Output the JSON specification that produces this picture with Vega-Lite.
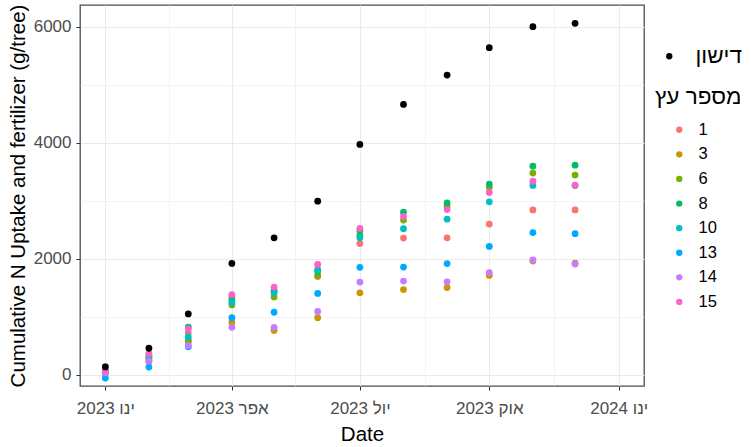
{
  "$schema": "https://vega.github.io/schema/vega-lite/v6.json",
  "width": 564,
  "height": 381,
  "autosize": "none",
  "padding": {"left": 80, "top": 5, "right": 107, "bottom": 61},
  "background": "white",
  "datasets": {
    "fert": [
      {"date": "2023-01-01", "kind": "דישון", "value": 131},
      {"date": "2023-02-01", "kind": "דישון", "value": 454},
      {"date": "2023-03-01", "kind": "דישון", "value": 1046},
      {"date": "2023-04-01", "kind": "דישון", "value": 1916},
      {"date": "2023-05-01", "kind": "דישון", "value": 2358},
      {"date": "2023-06-01", "kind": "דישון", "value": 2990},
      {"date": "2023-07-01", "kind": "דישון", "value": 3970},
      {"date": "2023-08-01", "kind": "דישון", "value": 4660},
      {"date": "2023-09-01", "kind": "דישון", "value": 5166},
      {"date": "2023-10-01", "kind": "דישון", "value": 5637},
      {"date": "2023-11-01", "kind": "דישון", "value": 6000},
      {"date": "2023-12-01", "kind": "דישון", "value": 6058}
    ],
    "trees": [
      {"date": "2023-01-01", "tree": "1", "value": 135},
      {"date": "2023-02-01", "tree": "1", "value": 340},
      {"date": "2023-03-01", "tree": "1", "value": 720},
      {"date": "2023-04-01", "tree": "1", "value": 1340},
      {"date": "2023-05-01", "tree": "1", "value": 1450},
      {"date": "2023-06-01", "tree": "1", "value": 1690},
      {"date": "2023-07-01", "tree": "1", "value": 2260},
      {"date": "2023-08-01", "tree": "1", "value": 2355},
      {"date": "2023-09-01", "tree": "1", "value": 2358},
      {"date": "2023-10-01", "tree": "1", "value": 2595},
      {"date": "2023-11-01", "tree": "1", "value": 2840},
      {"date": "2023-12-01", "tree": "1", "value": 2840},

      {"date": "2023-01-01", "tree": "3", "value": 60},
      {"date": "2023-02-01", "tree": "3", "value": 220},
      {"date": "2023-03-01", "tree": "3", "value": 560},
      {"date": "2023-04-01", "tree": "3", "value": 900},
      {"date": "2023-05-01", "tree": "3", "value": 760},
      {"date": "2023-06-01", "tree": "3", "value": 980},
      {"date": "2023-07-01", "tree": "3", "value": 1410},
      {"date": "2023-08-01", "tree": "3", "value": 1467},
      {"date": "2023-09-01", "tree": "3", "value": 1500},
      {"date": "2023-10-01", "tree": "3", "value": 1710},
      {"date": "2023-11-01", "tree": "3", "value": 1958},
      {"date": "2023-12-01", "tree": "3", "value": 1920},

      {"date": "2023-01-01", "tree": "6", "value": 50},
      {"date": "2023-02-01", "tree": "6", "value": 260},
      {"date": "2023-03-01", "tree": "6", "value": 590},
      {"date": "2023-04-01", "tree": "6", "value": 1200},
      {"date": "2023-05-01", "tree": "6", "value": 1340},
      {"date": "2023-06-01", "tree": "6", "value": 1710},
      {"date": "2023-07-01", "tree": "6", "value": 2400},
      {"date": "2023-08-01", "tree": "6", "value": 2665},
      {"date": "2023-09-01", "tree": "6", "value": 2900},
      {"date": "2023-10-01", "tree": "6", "value": 3230},
      {"date": "2023-11-01", "tree": "6", "value": 3475},
      {"date": "2023-12-01", "tree": "6", "value": 3440},

      {"date": "2023-01-01", "tree": "8", "value": 40},
      {"date": "2023-02-01", "tree": "8", "value": 320},
      {"date": "2023-03-01", "tree": "8", "value": 820},
      {"date": "2023-04-01", "tree": "8", "value": 1290},
      {"date": "2023-05-01", "tree": "8", "value": 1440},
      {"date": "2023-06-01", "tree": "8", "value": 1780},
      {"date": "2023-07-01", "tree": "8", "value": 2480},
      {"date": "2023-08-01", "tree": "8", "value": 2800},
      {"date": "2023-09-01", "tree": "8", "value": 2960},
      {"date": "2023-10-01", "tree": "8", "value": 3285},
      {"date": "2023-11-01", "tree": "8", "value": 3595},
      {"date": "2023-12-01", "tree": "8", "value": 3612},

      {"date": "2023-01-01", "tree": "10", "value": 20},
      {"date": "2023-02-01", "tree": "10", "value": 290},
      {"date": "2023-03-01", "tree": "10", "value": 650},
      {"date": "2023-04-01", "tree": "10", "value": 1240},
      {"date": "2023-05-01", "tree": "10", "value": 1410},
      {"date": "2023-06-01", "tree": "10", "value": 1810},
      {"date": "2023-07-01", "tree": "10", "value": 2360},
      {"date": "2023-08-01", "tree": "10", "value": 2515},
      {"date": "2023-09-01", "tree": "10", "value": 2680},
      {"date": "2023-10-01", "tree": "10", "value": 2980},
      {"date": "2023-11-01", "tree": "10", "value": 3262},
      {"date": "2023-12-01", "tree": "10", "value": 3260},

      {"date": "2023-01-01", "tree": "13", "value": -60},
      {"date": "2023-02-01", "tree": "13", "value": 130},
      {"date": "2023-03-01", "tree": "13", "value": 480},
      {"date": "2023-04-01", "tree": "13", "value": 980},
      {"date": "2023-05-01", "tree": "13", "value": 1075},
      {"date": "2023-06-01", "tree": "13", "value": 1400},
      {"date": "2023-07-01", "tree": "13", "value": 1850},
      {"date": "2023-08-01", "tree": "13", "value": 1855},
      {"date": "2023-09-01", "tree": "13", "value": 1915},
      {"date": "2023-10-01", "tree": "13", "value": 2210},
      {"date": "2023-11-01", "tree": "13", "value": 2450},
      {"date": "2023-12-01", "tree": "13", "value": 2430},

      {"date": "2023-01-01", "tree": "14", "value": 30},
      {"date": "2023-02-01", "tree": "14", "value": 230},
      {"date": "2023-03-01", "tree": "14", "value": 500},
      {"date": "2023-04-01", "tree": "14", "value": 815},
      {"date": "2023-05-01", "tree": "14", "value": 815},
      {"date": "2023-06-01", "tree": "14", "value": 1090},
      {"date": "2023-07-01", "tree": "14", "value": 1595},
      {"date": "2023-08-01", "tree": "14", "value": 1612},
      {"date": "2023-09-01", "tree": "14", "value": 1600},
      {"date": "2023-10-01", "tree": "14", "value": 1760},
      {"date": "2023-11-01", "tree": "14", "value": 1978},
      {"date": "2023-12-01", "tree": "14", "value": 1905},

      {"date": "2023-01-01", "tree": "15", "value": 60},
      {"date": "2023-02-01", "tree": "15", "value": 360},
      {"date": "2023-03-01", "tree": "15", "value": 790},
      {"date": "2023-04-01", "tree": "15", "value": 1380},
      {"date": "2023-05-01", "tree": "15", "value": 1510},
      {"date": "2023-06-01", "tree": "15", "value": 1900},
      {"date": "2023-07-01", "tree": "15", "value": 2520},
      {"date": "2023-08-01", "tree": "15", "value": 2730},
      {"date": "2023-09-01", "tree": "15", "value": 2845},
      {"date": "2023-10-01", "tree": "15", "value": 3140},
      {"date": "2023-11-01", "tree": "15", "value": 3336},
      {"date": "2023-12-01", "tree": "15", "value": 3267}
    ]
  },
  "encoding": {
    "x": {
      "field": "date",
      "type": "temporal",
      "title": "Date",
      "scale": {
        "type": "utc",
        "domain": [
          {"year": 2022, "month": 12, "date": 14, "utc": true},
          {"year": 2024, "month": 1, "date": 19, "utc": true}
        ],
        "nice": false
      },
      "axis": {
        "values": [
          {"year": 2023, "month": 1, "date": 1, "utc": true},
          {"year": 2023, "month": 2, "date": 15, "utc": true},
          {"year": 2023, "month": 4, "date": 1, "utc": true},
          {"year": 2023, "month": 5, "date": 16, "utc": true},
          {"year": 2023, "month": 7, "date": 1, "utc": true},
          {"year": 2023, "month": 8, "date": 16, "utc": true},
          {"year": 2023, "month": 10, "date": 1, "utc": true},
          {"year": 2023, "month": 11, "date": 16, "utc": true},
          {"year": 2024, "month": 1, "date": 1, "utc": true}
        ],
        "labelExpr": "utcdate(datum.value) === 1 ? ['ינו','פבר','מרץ','אפר','מאי','יונ','יול','אוג','ספט','אוק','נוב','דצמ'][utcmonth(datum.value)] + ' ' + utcyear(datum.value) : ''",
        "tickSize": {"condition": {"test": "utcdate(datum.value) === 1", "value": 4}, "value": 0},
        "gridWidth": {"condition": {"test": "utcdate(datum.value) === 1", "value": 1.1}, "value": 0.6},
        "labelPadding": 10,
        "titlePadding": 8
      }
    },
    "y": {
      "field": "value",
      "type": "quantitative",
      "title": "Cumulative N Uptake and fertilizer (g/tree)",
      "scale": {"domain": [-197, 6374], "nice": false, "zero": false},
      "axis": {
        "values": [0, 1000, 2000, 3000, 4000, 5000, 6000],
        "labelExpr": "datum.value % 2000 === 0 ? datum.label : ''",
        "format": "d",
        "tickSize": {"condition": {"test": "datum.value % 2000 === 0", "value": 4}, "value": 0},
        "gridWidth": {"condition": {"test": "datum.value % 2000 === 0", "value": 1.1}, "value": 0.6},
        "labelPadding": 5,
        "titlePadding": 5
      }
    }
  },
  "layer": [
    {
      "data": {"name": "trees"},
      "mark": {"type": "circle", "size": 46, "opacity": 1},
      "encoding": {
        "color": {
          "field": "tree",
          "type": "nominal",
          "scale": {
            "domain": ["1", "3", "6", "8", "10", "13", "14", "15"],
            "range": ["#F8766D", "#CD9600", "#7CAE00", "#00BE67", "#00BFC4", "#00A9FF", "#C77CFF", "#FF61CC"]
          },
          "legend": {
            "title": "מספר עץ",
            "orient": "none",
            "legendX": 575,
            "legendY": 81,
            "padding": 0,
            "symbolOffset": 16,
            "symbolSize": 40,
            "symbolType": "circle",
            "labelOffset": 11,
            "labelFontSize": 16.5,
            "rowPadding": 7.6,
            "titleFontSize": 22.5,
            "titlePadding": 13
          }
        }
      }
    },
    {
      "data": {"name": "fert"},
      "mark": {"type": "circle", "size": 46, "opacity": 1},
      "encoding": {
        "color": {
          "field": "kind",
          "type": "nominal",
          "scale": {"domain": ["דישון"], "range": ["black"]},
          "legend": {
            "title": null,
            "orient": "none",
            "legendX": 578,
            "legendY": 40,
            "padding": 0,
            "symbolSize": 40,
            "symbolType": "circle",
            "labelOffset": 15,
            "labelFontSize": 22.5
          }
        }
      }
    }
  ],
  "resolve": {"scale": {"color": "independent"}},
  "config": {
    "font": "Liberation Sans",
    "view": {"stroke": "#4d4d4d", "strokeWidth": 1.3},
    "axis": {
      "domain": false,
      "labelFont": "Liberation Sans",
      "labelFontSize": 17,
      "labelColor": "#4d4d4d",
      "titleFont": "Liberation Sans",
      "titleFontSize": 20.5,
      "titleFontWeight": "normal",
      "titleColor": "#000000",
      "tickColor": "#333333",
      "gridColor": "#ebebeb"
    },
    "legend": {
      "labelFont": "Liberation Sans",
      "titleFont": "Liberation Sans",
      "labelColor": "#000000",
      "titleColor": "#000000",
      "titleFontWeight": "normal"
    }
  }
}
